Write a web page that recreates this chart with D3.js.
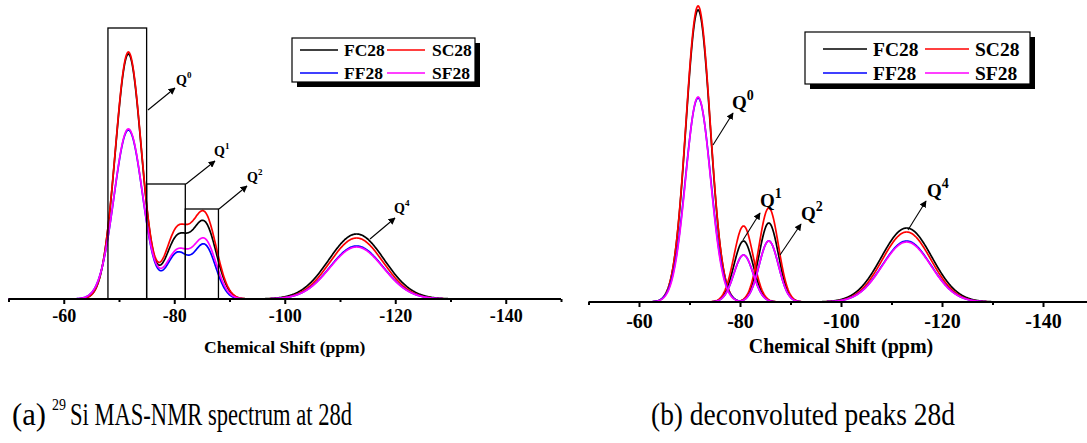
<!DOCTYPE html>
<html>
<head>
<meta charset="utf-8">
<script src="https://cdn.jsdelivr.net/npm/d3@7"></script>
<style>
  html, body { margin: 0; padding: 0; background: #fff; }
  svg { display: block; }
</style>
</head>
<body>
<svg id="chart" width="1087" height="443"></svg>
<script>
// ---------------- DATA ----------------
const seriesNames = ["FC28", "SC28", "FF28", "SF28"];
const seriesColors = ["#000000", "#ff0000", "#0000ff", "#ff00ff"];
const peakNames = ["Q0", "Q1", "Q2", "Q4"];

// x axis ticks (ppm)
const majorTicks = [-60, -80, -100, -120, -140];
const minorTicks = [-50, -70, -90, -110, -130, -150];

// (a) measured spectrum, described by its component peaks (ppm, intensity a.u., width ppm)
const centersA = [-71.7, -80.5, -85.5, -113.0];
const heightsA_FC28 = [245, 59, 74, 65];
const heightsA_SC28 = [247, 67, 83, 61];
const heightsA_FF28 = [169, 44, 53, 53];
const heightsA_SF28 = [170, 46, 58, 52];
const widthsA_FC28 = [2.35, 2.15, 2.15, 5.0];
const widthsA_SC28 = [2.35, 2.15, 2.15, 4.8];
const widthsA_FF28 = [2.6, 2.0, 2.0, 4.8];
const widthsA_SF28 = [2.6, 2.1, 2.1, 4.8];
const rangeA = [-50, -139.3];

// boxes marking Q0, Q1, Q2 regions in (a): [from ppm, to ppm, top intensity]
const boxLabels = ["Q0", "Q1", "Q2"];
const boxFrom = [-68, -75, -82];
const boxTo = [-75, -82, -88];
const boxTop = [271, 115, 90];

// (b) deconvoluted peaks
const centersB = [-71.7, -80.7, -85.7, -113.0];
const heightsB_FC28 = [292, 61, 79, 74];
const heightsB_SC28 = [296, 76, 94, 70];
const heightsB_FF28 = [204, 47, 61, 61];
const heightsB_SF28 = [205, 47, 61, 60];
const widthsB_FC28 = [2.4, 1.9, 1.9, 5.0];
const widthsB_SC28 = [2.4, 1.9, 1.9, 4.8];
const widthsB_FF28 = [2.5, 1.9, 1.9, 4.8];
const widthsB_SF28 = [2.45, 1.9, 1.9, 4.8];
const rangeFromB = [-61.5, -72, -77.5, -94.5];
const rangeToB = [-81.9, -89.5, -93.5, -131.9];

const xTitle = "Chemical Shift (ppm)";

// ---------------- LAYOUT ----------------
const svg = d3.select("#chart");
const serif = "'Liberation Serif','Times New Roman',serif";

const panels = [
  { id: "a", x0: 8.5, x1: 561, base: 299, top: 49, yMax: 250,
    tickFont: 18, tickPad: 5, titleFont: 17.5, titleY: 353,
    centers: centersA,
    heights: [heightsA_FC28, heightsA_SC28, heightsA_FF28, heightsA_SF28],
    widths: [widthsA_FC28, widthsA_SC28, widthsA_FF28, widthsA_SF28] },
  { id: "b", x0: 588.5, x1: 1093.5, base: 302, top: 2, yMax: 300,
    tickFont: 20, tickPad: 7, titleFont: 20, titleY: 353,
    centers: centersB,
    heights: [heightsB_FC28, heightsB_SC28, heightsB_FF28, heightsB_SF28],
    widths: [widthsB_FC28, widthsB_SC28, widthsB_FF28, widthsB_SF28] }
];

panels.forEach(p => {
  p.x = d3.scaleLinear().domain([-50, -150]).range([p.x0, p.x1]);
  p.y = d3.scaleLinear().domain([0, p.yMax]).range([p.base, p.top]);
});

function bell(v, c, h, w) { return h * Math.exp(-0.5 * ((v - c) / w) ** 2); }

const line = (p) => d3.line().x(d => p.x(d[0])).y(d => p.y(d[1]));

// ---------- Panel (a): summed spectra ----------
{
  const p = panels[0];
  const g = svg.append("g");
  const xs = d3.range(rangeA[0], rangeA[1] - 0.001, -0.1);
  seriesNames.forEach((s, i) => {
    const pts = xs.map(v => [v, d3.sum(p.centers, (c, k) => bell(v, c, p.heights[i][k], p.widths[i][k]))]);
    g.append("path").datum(pts)
      .attr("d", line(p))
      .attr("fill", "none").attr("stroke", seriesColors[i]).attr("stroke-width", 1.7);
  });
  boxLabels.forEach((b, i) => {
    g.append("rect")
      .attr("x", p.x(boxFrom[i])).attr("y", p.y(boxTop[i]))
      .attr("width", p.x(boxTo[i]) - p.x(boxFrom[i]))
      .attr("height", p.y(0) - p.y(boxTop[i]))
      .attr("fill", "none").attr("stroke", "#000").attr("stroke-width", 1.3);
  });
}

// ---------- Panel (b): deconvoluted peaks ----------
{
  const p = panels[1];
  const g = svg.append("g");
  seriesNames.forEach((s, i) => {
    peakNames.forEach((q, k) => {
      const xs = d3.range(rangeFromB[k], rangeToB[k] - 0.001, -0.1);
      const pts = xs.map(v => [v, bell(v, p.centers[k], p.heights[i][k], p.widths[i][k])]);
      g.append("path").datum(pts)
        .attr("d", line(p))
        .attr("fill", "none").attr("stroke", seriesColors[i]).attr("stroke-width", 1.7);
    });
  });
}

// ---------- Axes ----------
panels.forEach(p => {
  const g = svg.append("g").attr("transform", `translate(0,${p.base})`);
  const major = d3.axisBottom(p.x).tickValues(majorTicks).tickSize(5).tickSizeOuter(0)
    .tickPadding(p.tickPad).tickFormat(d => String(d));
  const gm = g.append("g").call(major);
  gm.select(".domain").attr("stroke-width", 2.2).attr("d", `M${p.x0},0H${Math.min(p.x1, 1087)}`);
  gm.selectAll(".tick line").attr("stroke-width", 2);
  gm.selectAll(".tick text")
    .style("font-family", serif).style("font-weight", "bold")
    .style("font-size", p.tickFont + "px").attr("fill", "#000");
  const minor = d3.axisBottom(p.x).tickValues(minorTicks).tickSize(3).tickSizeOuter(0).tickFormat("");
  const gn = g.append("g").call(minor);
  gn.select(".domain").remove();
  gn.selectAll(".tick line").attr("stroke-width", 2);
  gn.selectAll(".tick text").remove();

  svg.append("text")
    .attr("x", (p.x0 + p.x1) / 2).attr("y", p.titleY)
    .attr("text-anchor", "middle")
    .style("font-family", serif).style("font-weight", "bold")
    .style("font-size", p.titleFont + "px").text(xTitle);
});

// ---------- Legends ----------
function legend(box) {
  const g = svg.append("g");
  g.append("rect").attr("x", box.x + 5).attr("y", box.y + 5).attr("width", box.w).attr("height", box.h).attr("fill", "#000");
  g.append("rect").attr("x", box.x).attr("y", box.y).attr("width", box.w).attr("height", box.h)
    .attr("fill", "#fff").attr("stroke", "#000").attr("stroke-width", 1.2);
  seriesNames.forEach((s, i) => {
    const col = i % 2, row = Math.floor(i / 2);
    const lx = box.x + box.lineX[col];
    const ly = box.y + box.rowY[row];
    g.append("line").attr("x1", lx).attr("x2", lx + box.lineW).attr("y1", ly).attr("y2", ly)
      .attr("stroke", seriesColors[i]).attr("stroke-width", 1.6);
    g.append("text").attr("x", box.x + box.textX[col]).attr("y", ly + box.font * 0.36)
      .style("font-family", serif).style("font-weight", "bold")
      .style("font-size", box.font + "px").text(s);
  });
}
legend({ x: 292, y: 38, w: 183, h: 44, lineX: [8, 95], lineW: 38, textX: [52, 140], rowY: [12, 35], font: 17.5 });
legend({ x: 805, y: 32, w: 225, h: 52, lineX: [18, 120], lineW: 44, textX: [68, 170], rowY: [17, 41], font: 19.5 });

// ---------- Q labels with arrows ----------
svg.append("defs").append("marker").attr("id", "arr")
  .attr("viewBox", "0 0 10 10").attr("refX", 9).attr("refY", 5)
  .attr("markerWidth", 7).attr("markerHeight", 7).attr("markerUnits", "userSpaceOnUse")
  .attr("orient", "auto")
  .append("path").attr("d", "M0,0L10,5L0,10z").attr("fill", "#000");

const qLabels = [
  { x1: 148, y1: 110, x2: 175, y2: 88, tx: 176, ty: 85, sup: "0", fs: 14, ss: 9 },
  { x1: 186, y1: 184, x2: 215, y2: 161, tx: 214, ty: 156, sup: "1", fs: 14, ss: 9 },
  { x1: 219, y1: 209, x2: 247, y2: 186, tx: 247, ty: 182, sup: "2", fs: 14, ss: 9 },
  { x1: 370, y1: 239, x2: 395, y2: 218, tx: 394, ty: 213, sup: "4", fs: 14, ss: 9 },
  { x1: 713, y1: 145, x2: 733, y2: 113, tx: 732, ty: 109, sup: "0", fs: 19, ss: 14 },
  { x1: 743, y1: 240, x2: 760, y2: 213, tx: 760, ty: 207, sup: "1", fs: 19, ss: 14 },
  { x1: 780, y1: 255, x2: 801, y2: 224, tx: 801, ty: 220, sup: "2", fs: 19, ss: 14 },
  { x1: 908, y1: 230, x2: 926, y2: 201, tx: 927, ty: 197, sup: "4", fs: 19, ss: 14 }
];
qLabels.forEach(q => {
  svg.append("line").attr("x1", q.x1).attr("y1", q.y1).attr("x2", q.x2).attr("y2", q.y2)
    .attr("stroke", "#000").attr("stroke-width", 1.1).attr("marker-end", "url(#arr)");
  const t = svg.append("text").attr("x", q.tx).attr("y", q.ty)
    .style("font-family", serif).style("font-weight", "bold").style("font-size", q.fs + "px");
  t.append("tspan").text("Q");
  t.append("tspan").attr("dy", -q.fs * 0.5).style("font-size", q.ss + "px").text(q.sup);
});

// ---------- Captions ----------
function cap(x, y, size, len, str) {
  return svg.append("text").attr("x", x).attr("y", y)
    .style("font-family", serif).style("font-size", size + "px")
    .attr("textLength", len).attr("lengthAdjust", "spacingAndGlyphs").text(str);
}
cap(12, 425, 31, 34, "(a)");
cap(52, 410, 16, 14, "29");
cap(70, 425, 31, 282, "Si MAS-NMR spectrum at 28d");
cap(651, 425, 31, 304, "(b) deconvoluted peaks 28d");
</script>
</body>
</html>
